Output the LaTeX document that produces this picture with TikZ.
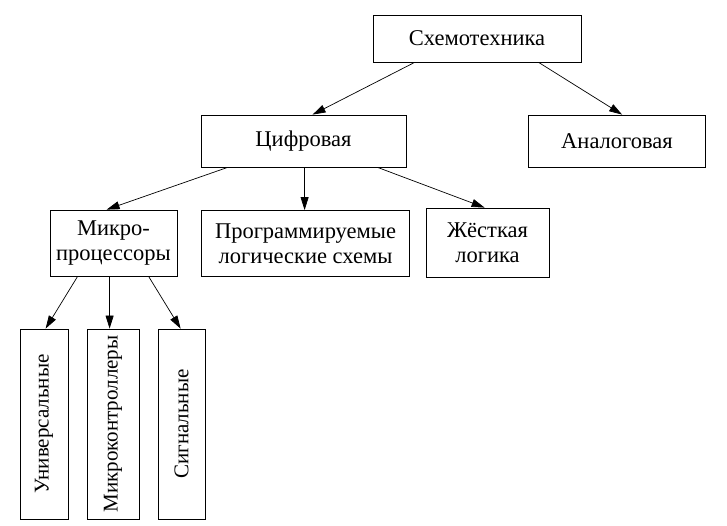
\documentclass[tikz,border=0pt]{standalone}
\usepackage{fontspec}
\setmainfont{Liberation Serif}
\usetikzlibrary{arrows.meta,calc}
\begin{document}
\begin{tikzpicture}[x=1pt,y=-1pt,
  box/.style={draw,line width=0.8pt,inner sep=0pt,font=\fontsize{22.5}{25}\selectfont,align=center},
  arr/.style={line width=0.7pt,-{Triangle[length=13pt,width=8pt]}},
  vtext/.style={rotate=90,font=\fontsize{21}{24}\selectfont,inner sep=0pt}]
\useasboundingbox (0,0) rectangle (727,525);
\node[box,minimum width=208,minimum height=47] (S) at (477,38.5) {Схемотехника};
\node[box,minimum width=205,minimum height=52] (C) at (303.5,141) {Цифровая};
\node[box,minimum width=177,minimum height=52] (A) at (617,141) {Аналоговая};
\node[box,minimum width=127,minimum height=66] (M) at (113.5,243) {Микро-\\процессоры};
\node[box,minimum width=208,minimum height=66] (P) at (305.5,243.5) {Программируемые\\логические схемы};
\node[box,minimum width=123,minimum height=69] (Z) at (487.5,242.5) {Жёсткая\\логика};
\node[box,minimum width=48,minimum height=190] (U) at (44,424) {};
\node[box,minimum width=52,minimum height=190] (K) at (113,424) {};
\node[box,minimum width=47,minimum height=190] (G) at (181.5,424) {};
\node[vtext] (Ut) at (U.center) {Универсальные};
\node[vtext] (Kt) at (K.center) {Микроконтроллеры};
\node[vtext] (Gt) at (G.center) {Сигнальные};
\draw[arr] ($(S.south west)+(42,0)$) -- ($(C.north west)+(112,0)$);
\draw[arr] ($(S.south west)+(166,0)$) -- ($(A.north west)+(94,0)$);
\draw[arr] ($(C.south west)+(27,0)$) -- ($(M.north west)+(57,0)$);
\draw[arr] ($(C.south west)+(104,0)$) -- ($(P.north west)+(103.5,0)$);
\draw[arr] ($(C.south west)+(177,0)$) -- ($(Z.north west)+(59,0)$);
\draw[arr] ($(M.south west)+(28,0)$) -- ($(U.north west)+(26,0)$);
\draw[arr] ($(M.south west)+(60,0)$) -- ($(K.north west)+(23,0)$);
\draw[arr] ($(M.south west)+(99,0)$) -- ($(G.north west)+(23,0)$);
\end{tikzpicture}
\end{document}
